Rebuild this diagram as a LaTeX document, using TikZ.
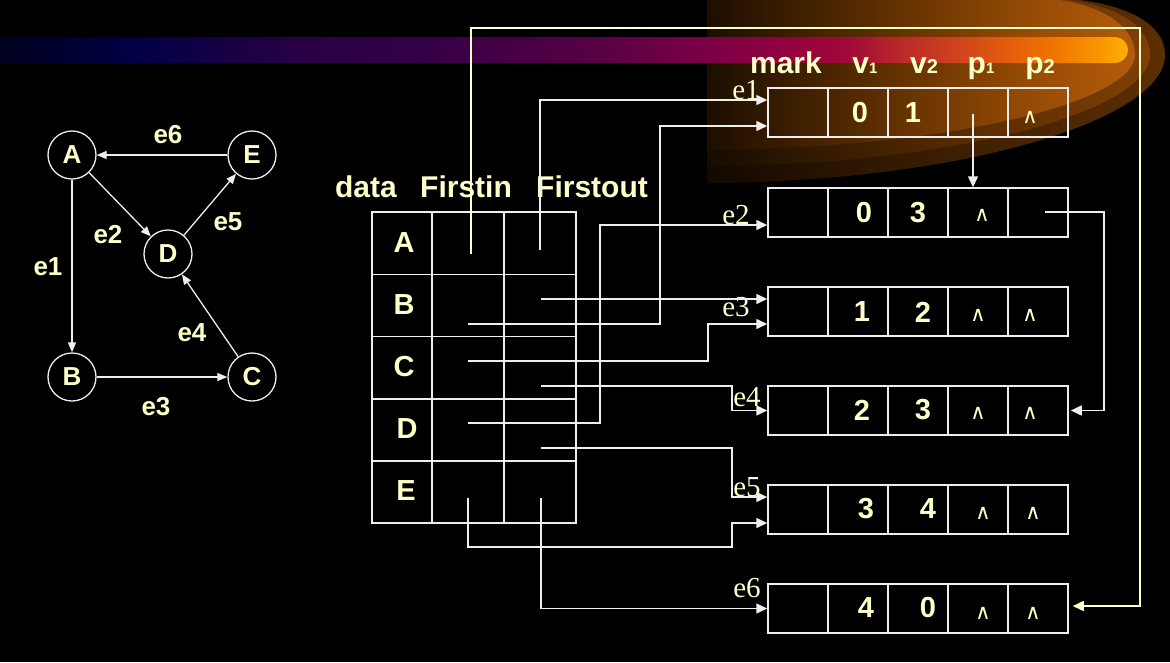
\documentclass[tikz,border=0pt]{standalone}
\usepackage{fontspec}
\setmainfont{Liberation Sans}
\newfontfamily\serifel{Liberation Serif}
\newfontfamily\djvs{DejaVu Sans}
\usetikzlibrary{arrows.meta,calc}
\definecolor{cream}{RGB}{255,255,200}
\definecolor{lineW}{RGB}{238,238,238}
\pgfdeclarehorizontalshading{barshade}{100bp}{rgb(0bp)=(0,0,0.12); rgb(25bp)=(0,0,0.12); rgb(30.76bp)=(0,0,0.27); rgb(38.3bp)=(0.16,0,0.27); rgb(43.62bp)=(0.2,0,0.27); rgb(51.6bp)=(0.35,0,0.27); rgb(56.91bp)=(0.5,0,0.27); rgb(60.46bp)=(0.59,0,0.24); rgb(62.68bp)=(0.63,0.04,0.22); rgb(64.89bp)=(0.73,0.16,0.16); rgb(67.11bp)=(0.8,0.25,0.12); rgb(69.33bp)=(0.88,0.35,0.06); rgb(71.54bp)=(0.94,0.45,0); rgb(73.76bp)=(0.98,0.59,0); rgb(75bp)=(1,0.69,0); rgb(100bp)=(1,0.69,0)}
\pgfdeclarehorizontalshading{glowA}{100bp}{rgb(0bp)=(0.07,0.035,0); rgb(25bp)=(0.07,0.035,0); rgb(45bp)=(0.20,0.10,0); rgb(75bp)=(0.36,0.18,0.01); rgb(100bp)=(0.36,0.18,0.01)}
\pgfdeclarehorizontalshading{glowB}{100bp}{rgb(0bp)=(0.09,0.045,0); rgb(25bp)=(0.09,0.045,0); rgb(45bp)=(0.27,0.135,0); rgb(75bp)=(0.50,0.25,0.02); rgb(100bp)=(0.50,0.25,0.02)}
\pgfdeclarehorizontalshading{glowC}{100bp}{rgb(0bp)=(0.11,0.055,0); rgb(25bp)=(0.11,0.055,0); rgb(45bp)=(0.36,0.18,0); rgb(62bp)=(0.58,0.29,0.02); rgb(75bp)=(0.70,0.36,0.04); rgb(100bp)=(0.70,0.36,0.04)}
\tikzset{
  hdr/.style={text=cream,font=\fontsize{30}{34}\selectfont\bfseries,inner sep=0pt,anchor=base},
  big/.style={text=cream,font=\fontsize{29}{32}\selectfont\bfseries,inner sep=0pt},
  glab/.style={text=cream,font=\fontsize{26}{30}\selectfont\bfseries,inner sep=0pt},
  elab/.style={text=cream,font=\fontsize{29}{32}\selectfont\serifel,inner sep=0pt},
  nil/.style={text=cream,font=\fontsize{21}{22}\selectfont\djvs,inner sep=0pt},
  gnode/.style={circle,draw=lineW,line width=1.3pt,minimum size=48pt,inner sep=0pt,text=cream,font=\fontsize{26}{30}\selectfont\bfseries},
  garr/.style={draw=lineW,line width=1.3pt,-{Triangle[length=10pt,width=8pt]}},
  cell/.style={draw=lineW,line width=1.5pt,minimum width=60pt,minimum height=49pt,inner sep=0pt},
  tcell/.style={draw=lineW,line width=1.5pt,minimum height=62.2pt,inner sep=0pt},
  ptr/.style={draw=lineW,line width=1.5pt,-{Triangle[length=11pt,width=10pt]}},
  loopc/.style={draw=cream,line width=1.5pt,-{Triangle[length=11pt,width=10pt]}}
}
\begin{document}
\begin{tikzpicture}[x=1pt,y=-1pt]
\useasboundingbox (0,0) rectangle (1170,662);
\fill[black] (0,0) rectangle (1170,662);
% glow
\shade[shading=glowA] (707,0) -- (1080,0) .. controls (1140,8) and (1165,30) .. (1165,55) .. controls (1165,120) and (960,182) .. (707,183) -- cycle;
\shade[shading=glowB] (707,0) -- (1070,0) .. controls (1125,8) and (1150,30) .. (1150,55) .. controls (1150,110) and (960,165) .. (707,166) -- cycle;
\shade[shading=glowC] (707,0) -- (1060,0) .. controls (1110,8) and (1135,30) .. (1135,55) .. controls (1135,100) and (960,148) .. (707,150) -- cycle;
% bar
\shade[shading=barshade] (0,37) -- (1115,37) arc[start angle=-90,end angle=90,radius=13] -- (0,63) -- cycle;

% graph
\node[gnode] (gA) at (72,155) {A};
\node[gnode] (gE) at (252,155) {E};
\node[gnode] (gD) at (168,254) {D};
\node[gnode] (gB) at (72,377) {B};
\node[gnode] (gC) at (252,377) {C};
\draw[garr] (gA) -- (gB);
\draw[garr] (gA) -- (gD);
\draw[garr] (gB) -- (gC);
\draw[garr] (gC) -- (gD);
\draw[garr] (gD) -- (gE);
\draw[garr] (gE) -- (gA);
\node[glab] (l6) at (168,135) {e6};
\node[glab] (l2) at (108,235) {e2};
\node[glab] (l5) at (228,222) {e5};
\node[glab] (l1) at (48,267) {e1};
\node[glab] (l4) at (192,333) {e4};
\node[glab] (l3) at (156,407) {e3};

% table header
\node[hdr] (hdata) at (366,197) {data};
\node[hdr] (hin) at (466,197) {Firstin};
\node[hdr] (hout) at (592,197) {Firstout};

% table cells
\foreach \r/\y in {A/243.25,B/305.45,C/367.65,D/429.85,E/492.05}{
  \node[tcell,minimum width=60pt] (t\r) at (402,\y) {};
  \node[tcell,minimum width=72pt] (t\r i) at (468,\y) {};
  \node[tcell,minimum width=72pt] (t\r o) at (540,\y) {};
}
\node[big] (vA) at (404,243) {A};
\node[big] (vB) at (404,305) {B};
\node[big] (vC) at (404,367) {C};
\node[big] (vD) at (407,429) {D};
\node[big] (vE) at (406,491) {E};

% record header
\node[hdr] (hm) at (786,73) {mark};
\node[hdr] (hv1) at (865,73) {v{\fontsize{15}{15}\selectfont 1}};
\node[hdr] (hv2) at (924,73) {v{\fontsize{20}{20}\selectfont 2}};
\node[hdr] (hp1) at (981,73) {p{\fontsize{15}{15}\selectfont 1}};
\node[hdr] (hp2) at (1040,73) {p{\fontsize{20}{20}\selectfont 2}};

% records
\foreach \k/\y in {1/112.5,2/212.5,3/311.5,4/410.5,5/509.5,6/608.5}{
  \node[cell] (r\k m) at (798,\y) {};
  \node[cell] (r\k a) at (858,\y) {};
  \node[cell] (r\k b) at (918,\y) {};
  \node[cell] (r\k p) at (978,\y) {};
  \node[cell] (r\k q) at (1038,\y) {};
}
% record labels
\node[elab] (le1) at (746,90) {e1};
\node[elab] (le2) at (736,215) {e2};
\node[elab] (le3) at (736,307) {e3};
\node[elab] (le4) at (747,397) {e4};
\node[elab] (le5) at (747,487) {e5};
\node[elab] (le6) at (747,588) {e6};
% record values
\node[big] (d1a) at (860,113) {0};
\node[big] (d1b) at (913,113) {1};
\node[big] (d2a) at (864,213) {0};
\node[big] (d2b) at (918,213) {3};
\node[big] (d3a) at (862,312) {1};
\node[big] (d3b) at (923,312) {2};
\node[big] (d4a) at (862,410) {2};
\node[big] (d4b) at (923,410) {3};
\node[big] (d5a) at (866,509) {3};
\node[big] (d5b) at (928,509) {4};
\node[big] (d6a) at (866,608) {4};
\node[big] (d6b) at (928,608) {0};
\node[nil] (n1q) at (1030,117) {∧};
\node[nil] (n2p) at (982,215) {∧};
\node[nil] (n3p) at (978,315) {∧};
\node[nil] (n3q) at (1030,315) {∧};
\node[nil] (n4p) at (978,413) {∧};
\node[nil] (n4q) at (1030,413) {∧};
\node[nil] (n5p) at (983,513) {∧};
\node[nil] (n5q) at (1033,513) {∧};
\node[nil] (n6p) at (983,613) {∧};
\node[nil] (n6q) at (1033,613) {∧};

% pointer origins
\coordinate (pAin) at (471,254);
\coordinate (pAout) at (540,250);
\coordinate (pBin) at (468,324);
\coordinate (pBout) at (541,299);
\coordinate (pCin) at (468,361);
\coordinate (pCout) at (541,386);
\coordinate (pDin) at (468,423);
\coordinate (pDout) at (541,448);
\coordinate (pEin) at (468,498);
\coordinate (pEout) at (541,498);
\coordinate (pe1) at (973,114);
\coordinate (pe2) at (1045,212);

% connectors
\draw[loopc] (pAin) |- (1140,28) |- ([xshift=4pt,yshift=2.5pt]r6q.east);
\draw[ptr] (pAout) |- ([yshift=12.5pt]r1m.west);
\draw[ptr] (pBin) -- (660,324) |- ([yshift=-13.5pt]r1m.west);
\draw[ptr] (pBout) -- ([yshift=12.5pt]r3m.west);
\draw[ptr] (pCin) -- (708,361) |- ([yshift=-12.5pt]r3m.west);
\draw[ptr] (pCout) -- (732,386) |- (r4m.west);
\draw[ptr] (pDin) -- (600,423) |- ([yshift=-12.5pt]r2m.west);
\draw[ptr] (pDout) -- (732,448) |- ([yshift=12.5pt]r5m.west);
\draw[ptr] (pEin) |- (732,547) |- ([yshift=-13.5pt]r5m.west);
\draw[ptr] (pEout) |- (r6m.west);
\draw[ptr] (pe1) -- ([xshift=-5pt]r2p.north);
\draw[ptr] (pe2) -- (1104,212) |- ([xshift=2pt]r4q.east);
\end{tikzpicture}
\end{document}
